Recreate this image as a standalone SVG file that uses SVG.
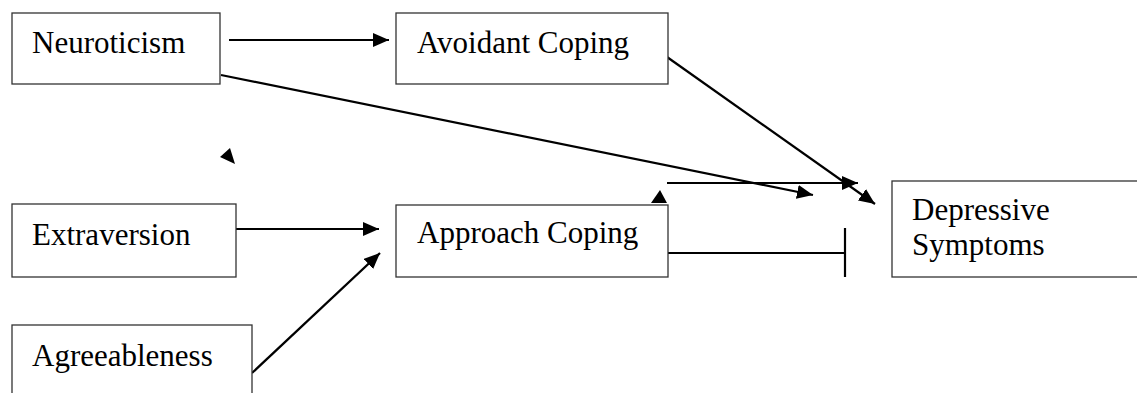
<svg xmlns="http://www.w3.org/2000/svg" width="1137" height="393" viewBox="0 0 1137 393">
<style>
.box{fill:#fff;stroke:#333;stroke-width:1.3}
.lbl{font-family:"Liberation Serif","Times New Roman",serif;font-size:31px;fill:#000}
.edge{stroke:#000;stroke-width:2.2;fill:none}
.head{fill:#000;stroke:none}
</style>
<defs>
<marker id="arr" markerUnits="userSpaceOnUse" markerWidth="17" markerHeight="14" refX="16" refY="7" orient="auto">
<path d="M0,0 L16,7 L0,14 z" fill="#000"/>
</marker>
</defs>
<rect width="1137" height="393" fill="#fff"/>
<g id="connectors">
<line class="edge" x1="229" y1="40" x2="389" y2="40" marker-end="url(#arr)"/>
<line class="edge" x1="236" y1="229" x2="379" y2="229" marker-end="url(#arr)"/>
<line class="edge" x1="252" y1="373" x2="380" y2="253" marker-end="url(#arr)"/>
<line class="edge" x1="221" y1="75" x2="813" y2="195" marker-end="url(#arr)"/>
<line class="edge" x1="667" y1="57" x2="875" y2="204" marker-end="url(#arr)"/>
<line class="edge" x1="667" y1="183" x2="858" y2="183" marker-end="url(#arr)"/>
<line class="edge" x1="668" y1="253" x2="845" y2="253"/>
<line class="edge" x1="845" y1="228" x2="845" y2="277"/>
<polygon class="head" points="230,148 220,157 235,164"/>
<polygon class="head" points="651,203 660,190 667,203"/>
</g>
<g id="neuroticism">
<rect class="box" x="12" y="13" width="208" height="71"/>
<text class="lbl" x="32" y="53">Neuroticism</text>
</g>
<g id="avoidant">
<rect class="box" x="396" y="13" width="272" height="71"/>
<text class="lbl" x="417" y="53">Avoidant Coping</text>
</g>
<g id="extraversion">
<rect class="box" x="12" y="204" width="224" height="73"/>
<text class="lbl" x="32" y="245">Extraversion</text>
</g>
<g id="approach">
<rect class="box" x="396" y="205" width="272" height="72"/>
<text class="lbl" x="417" y="243">Approach Coping</text>
</g>
<g id="agreeableness">
<rect class="box" x="12" y="325" width="240" height="90"/>
<text class="lbl" x="32" y="366">Agreeableness</text>
</g>
<g id="depressive">
<rect class="box" x="892" y="181" width="260" height="96"/>
<text class="lbl" x="912" y="220">Depressive</text>
<text class="lbl" x="912" y="255">Symptoms</text>
</g>
</svg>
